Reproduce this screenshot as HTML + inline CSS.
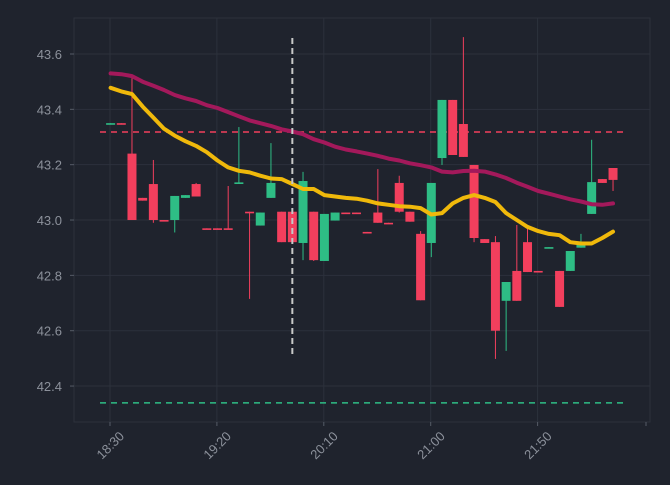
<!DOCTYPE html>
<html><head><meta charset="utf-8"><style>
html,body{margin:0;padding:0;background:#1f232d;}
svg{display:block;font-family:"Liberation Sans",sans-serif;}
</style></head><body>
<svg id="chart" width="670" height="485"></svg>
<script>
const times=["18:30","19:20","20:10","21:00","21:50"];
const yTicks=[42.4,42.6,42.8,43.0,43.2,43.4,43.6];
const opens=[43.345,43.35,43.24,43.08,43.13,43.0,43.0,43.08,43.13,42.97,42.97,42.97,43.134,43.03,42.98,43.08,43.03,43.03,42.917,43.03,42.852,42.998,43.027,43.027,42.957,43.027,42.99,43.134,43.03,42.95,42.917,43.224,43.434,43.347,43.199,42.931,42.92,42.708,42.816,42.92,42.816,42.9,42.816,42.816,42.9,43.022,43.148,43.188];
const closes=[43.35,43.345,43.0,43.07,43.0,42.997,43.087,43.09,43.085,42.968,42.968,42.968,43.136,43.025,43.027,43.134,42.92,42.92,43.141,42.855,43.022,43.027,43.025,43.025,42.955,42.99,42.988,43.03,42.994,42.71,43.134,43.434,43.235,43.228,42.935,42.917,42.6,42.776,42.708,42.812,42.814,42.902,42.686,42.888,42.91,43.137,43.134,43.145];
const highs=[43.35,43.35,43.513,43.08,43.217,43.0,43.087,43.09,43.134,42.97,42.97,43.123,43.336,43.03,43.027,43.278,43.03,43.03,43.174,43.03,43.022,43.027,43.027,43.027,42.957,43.184,42.99,43.16,43.03,42.96,43.134,43.434,43.434,43.661,43.199,42.931,42.942,42.776,42.982,42.978,42.816,42.902,42.816,42.888,42.95,43.29,43.148,43.188];
const lows=[43.345,43.345,43.0,43.07,42.99,42.997,42.955,43.08,43.085,42.968,42.968,42.968,43.134,42.715,42.98,43.08,42.92,42.92,42.855,42.852,42.852,42.998,43.025,43.025,42.955,42.99,42.988,43.027,42.994,42.71,42.866,43.199,43.235,43.228,42.92,42.917,42.498,42.527,42.708,42.812,42.814,42.9,42.686,42.816,42.9,43.022,43.134,43.105];
const maSlow=[43.53,43.527,43.52,43.50,43.485,43.47,43.452,43.44,43.43,43.415,43.405,43.39,43.375,43.36,43.35,43.34,43.328,43.32,43.31,43.292,43.28,43.265,43.255,43.248,43.24,43.232,43.222,43.215,43.205,43.198,43.19,43.175,43.172,43.177,43.178,43.175,43.165,43.152,43.135,43.12,43.105,43.095,43.085,43.075,43.067,43.057,43.055,43.06];
const maFast=[43.478,43.465,43.455,43.41,43.37,43.33,43.305,43.285,43.268,43.245,43.215,43.19,43.178,43.172,43.16,43.15,43.148,43.13,43.112,43.112,43.09,43.085,43.08,43.077,43.07,43.06,43.055,43.05,43.048,43.043,43.02,43.025,43.06,43.08,43.09,43.08,43.065,43.025,43.0,42.975,42.96,42.95,42.945,42.92,42.915,42.915,42.935,42.958];
const resistance=[43.318];
const support=[42.339];
const markerIndex=[17];

const NS="http://www.w3.org/2000/svg";
const svg=document.getElementById('chart');
const X0=74,X1=650,Y0=18,Y1=422;
const xs=i=>110.6+10.69*i;
const ys=v=>54+(43.6-v)*276.7;
function mk(t,a,p){const e=document.createElementNS(NS,t);for(const k in a)e.setAttribute(k,a[k]);(p||svg).appendChild(e);return e;}

const frame=mk('rect',{x:X0,y:Y0,width:X1-X0,height:Y1-Y0,fill:'#1f232d',stroke:'#2c313c'});



yTicks.forEach(v=>{
  const y=ys(v);
  const g=mk('line',{x1:X0,x2:X1,y1:y,y2:y,stroke:'#2c313c','stroke-width':1});
  
  
  mk('line',{x1:X0-4,x2:X0,y1:y,y2:y,stroke:'#555b66'});
  const t=mk('text',{x:X0-12,y:y+5,'text-anchor':'end','font-size':13,fill:'#8c919b'});
  t.textContent=v.toFixed(1);
  
  
});
times.forEach((s,k)=>{
  const x=xs(k*10)-0.6;
  const g=mk('line',{x1:x,x2:x,y1:Y0,y2:Y1,stroke:'#2c313c'});
  
  
  mk('line',{x1:x,x2:x,y1:Y1,y2:Y1+4,stroke:'#555b66'});
  const ax=x+15,ay=Y1+15;
  const t=mk('text',{x:ax,y:ay,'text-anchor':'end','font-size':13,fill:'#8c919b',transform:`rotate(-45 ${ax} ${ay})`});
  t.textContent=s;
  
  
});
const ex=646;
mk('line',{x1:ex,x2:ex,y1:Y1,y2:Y1+4,stroke:'#555b66'});

resistance.forEach(v=>{
  const l=mk('line',{x1:100,x2:625,y1:ys(v),y2:ys(v),stroke:'#f23f5d','stroke-width':1.5,'stroke-dasharray':'6,5'});
  
  
});
support.forEach(v=>{
  const l=mk('line',{x1:100,x2:625,y1:ys(v),y2:ys(v),stroke:'#2ebd85','stroke-width':1.5,'stroke-dasharray':'6,5'});
  
  
});

opens.forEach((o,i)=>{
  const c=closes[i],up=c>=o,col=up?'#2ebd85':'#f23f5d',x=xs(i);
  const w=mk('line',{x1:x,x2:x,y1:ys(highs[i]),y2:ys(lows[i]),stroke:col,'stroke-width':1});
  
  
  const top=ys(Math.max(o,c)),h=Math.max(1.6,Math.abs(ys(o)-ys(c)));
  const b=mk('rect',{x:x-4.5,y:top,width:9,height:h,fill:col});
  
  
});

function line(arr,col,name){
  const d=arr.map((v,i)=>(i?'L':'M')+xs(i).toFixed(1)+' '+ys(v).toFixed(1)).join(' ');
  const p=mk('path',{d:d,fill:'none',stroke:col,'stroke-width':4,'stroke-linejoin':'round','stroke-linecap':'round'});
  
  
}
line(maSlow,'#a3195b','moving-average-slow');
line(maFast,'#f0b90b','moving-average-fast');

markerIndex.forEach(m=>{
  const x=xs(m);
  const l=mk('line',{x1:x,x2:x,y1:38,y2:358,stroke:'#c8c8c8','stroke-width':2,'stroke-dasharray':'6,4'});
  
  
});
</script>
</body></html>
